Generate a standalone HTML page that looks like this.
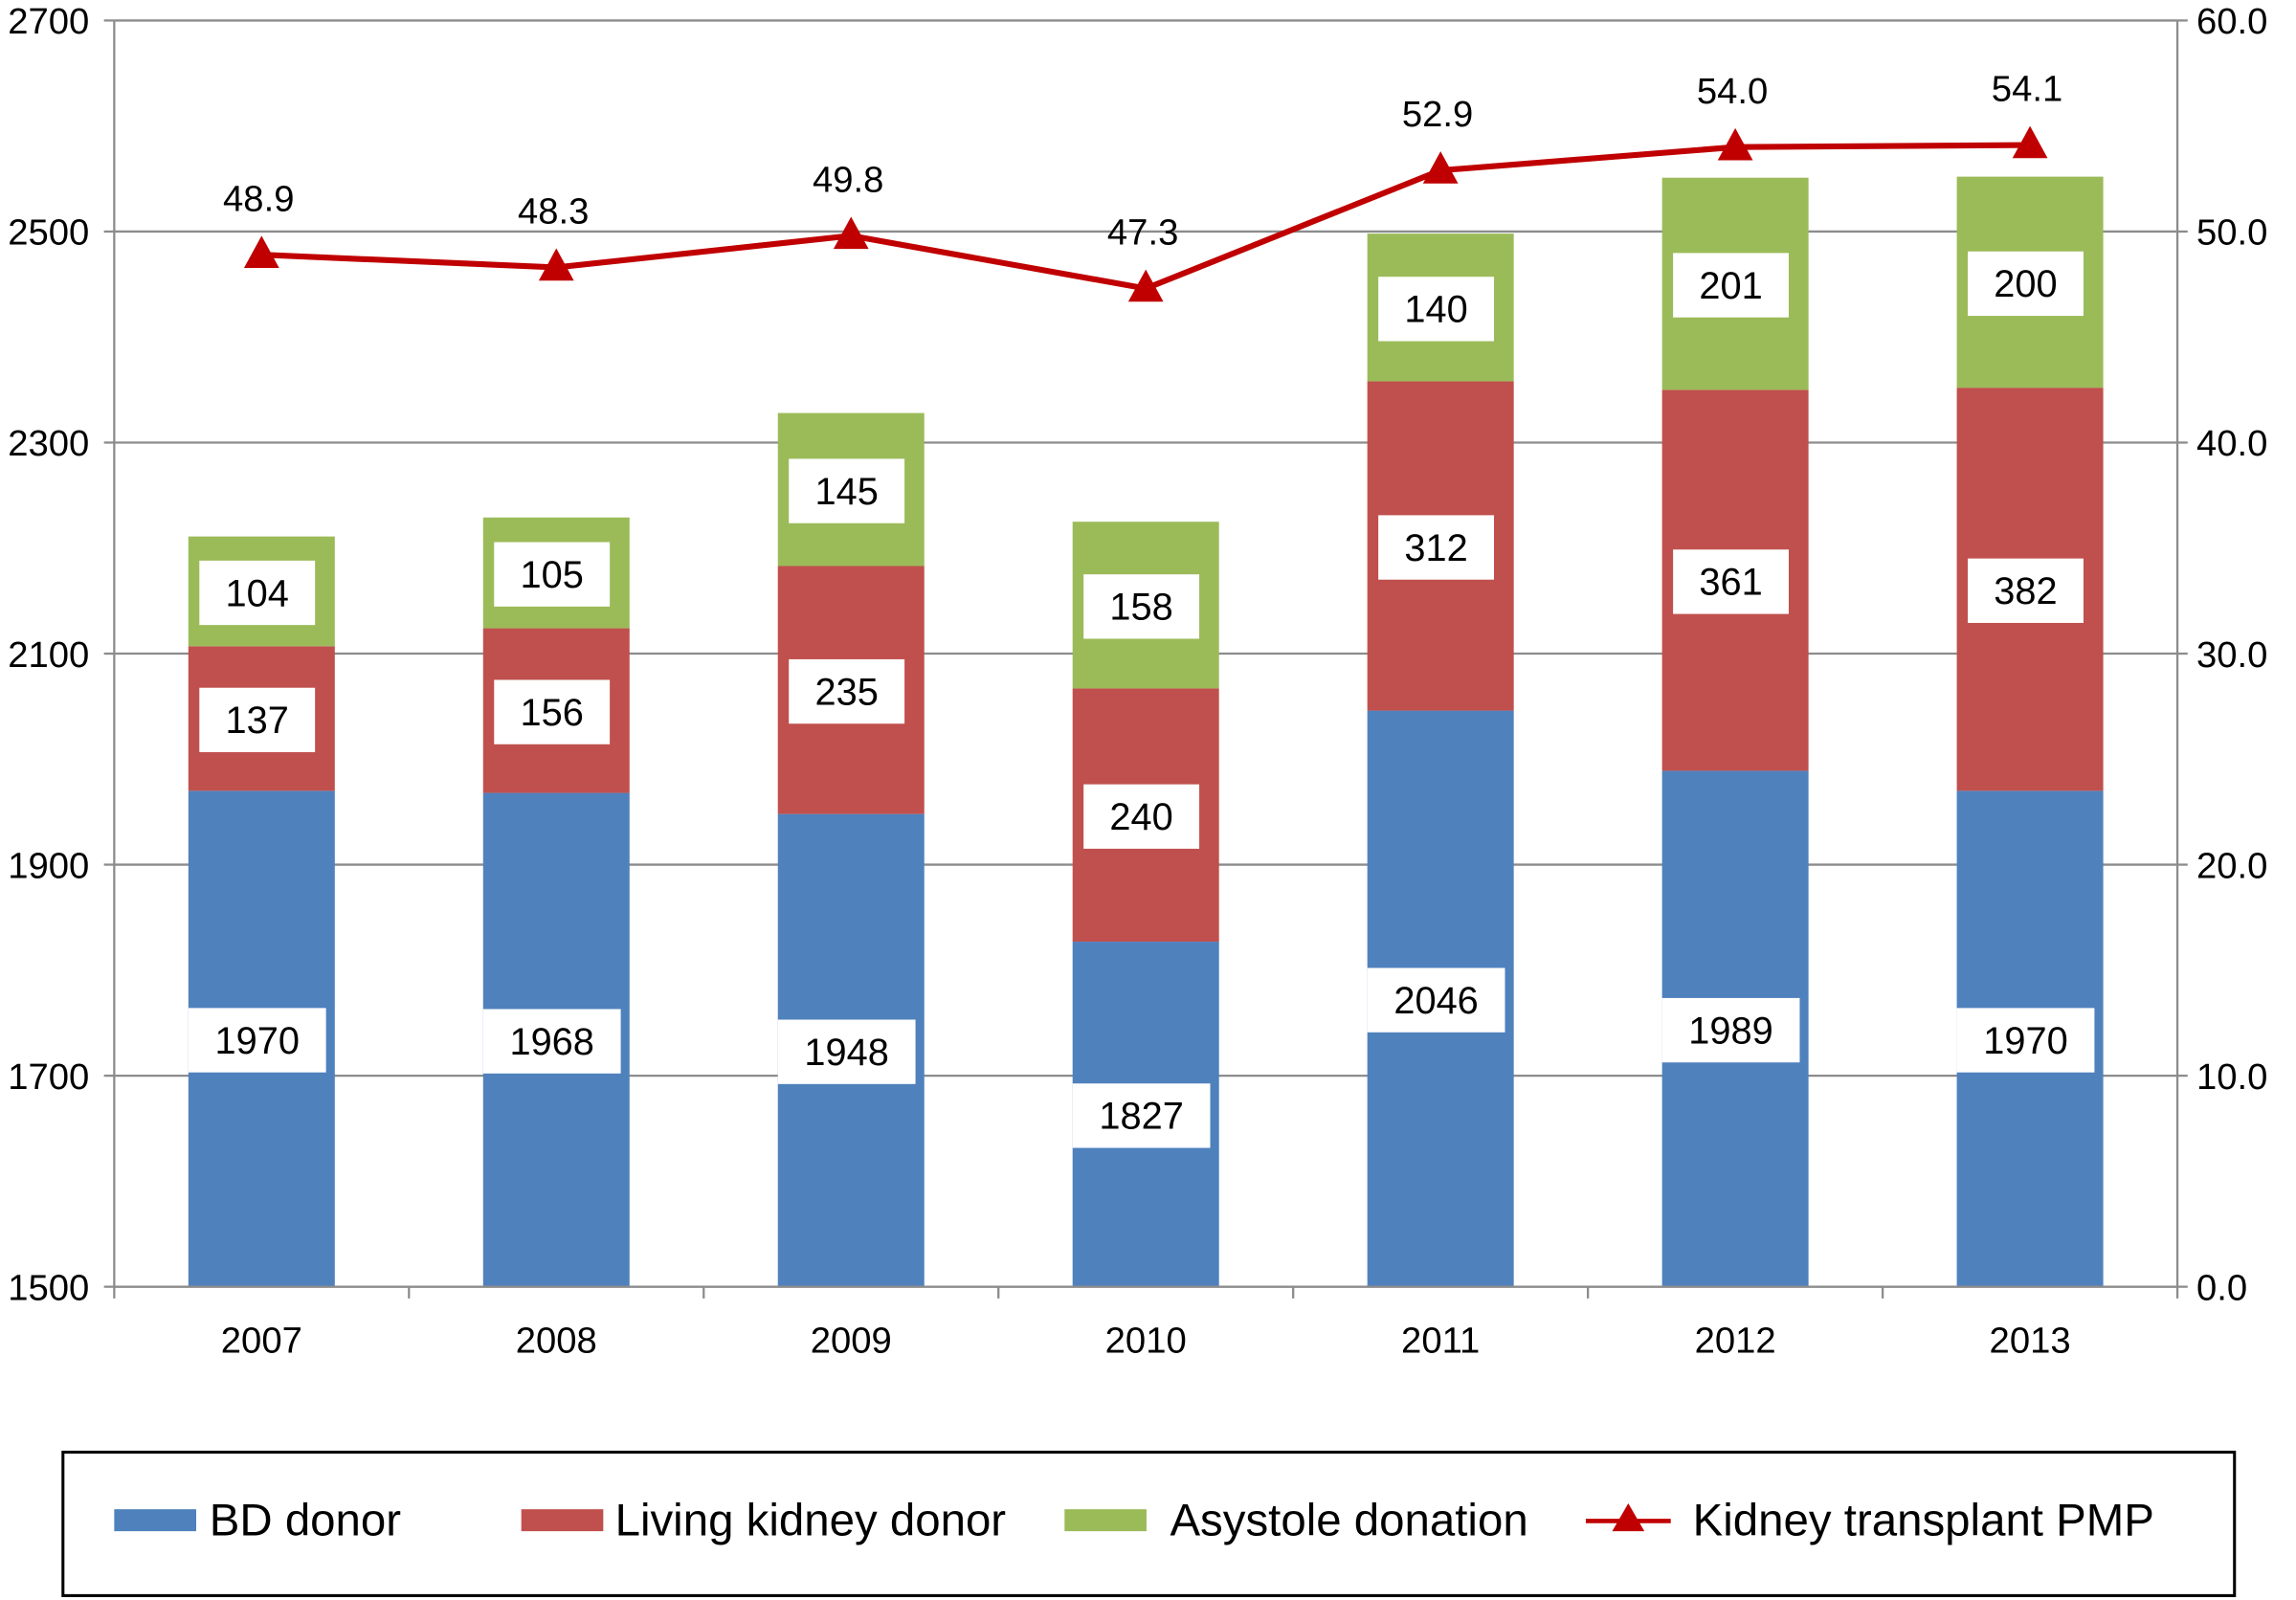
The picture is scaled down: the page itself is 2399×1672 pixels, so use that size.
<!DOCTYPE html>
<html><head><meta charset="utf-8"><style>
html,body{margin:0;padding:0;background:#fff}
svg{display:block;font-family:"Liberation Sans",Arial,sans-serif}
</style></head><body>
<svg id="chart" width="2399" height="1672" viewBox="0 0 1568 1093" preserveAspectRatio="none" xmlns="http://www.w3.org/2000/svg">
<g id="grid"></g><g id="bars"></g><g id="line"></g><g id="axes"></g>
<g>
<rect x="43" y="992" width="1483" height="98" fill="#fff" stroke="#000" stroke-width="2"/>
<rect x="78" y="1031" width="56" height="15" fill="#4F81BD"/>
<text x="143" y="1049" font-size="31">BD donor</text>
<rect x="356" y="1031" width="56" height="15" fill="#C0504D"/>
<text x="420" y="1049" font-size="31">Living kidney donor</text>
<rect x="727" y="1031" width="56" height="15" fill="#9BBB59"/>
<text x="799" y="1049" font-size="31">Asystole donation</text>
<line x1="1083" y1="1039" x2="1141" y2="1039" stroke="#C00000" stroke-width="3"/>
<polygon points="1112,1027 1123,1046 1101,1046" fill="#C00000"/>
<text x="1156" y="1049" font-size="31">Kidney transplant PMP</text>
</g>
</svg>
<script>
const categories=["2007","2008","2009","2010","2011","2012","2013"];
const bdDonor=[1970,1968,1948,1827,2046,1989,1970];
const livingDonor=[137,156,235,240,312,361,382];
const asystole=[104,105,145,158,140,201,200];
const pmp=[48.9,48.3,49.8,47.3,52.9,54.0,54.1];
const leftTicks=[1500,1700,1900,2100,2300,2500,2700];
const rightTicks=[0,10,20,30,40,50,60];
const NS="http://www.w3.org/2000/svg";
const L=78,R=1487,T=14,B=879;
const yL=v=>B-(v-1500)/1200*(B-T);
const yR=v=>B-v/60*(B-T);
const band=(R-L)/categories.length;
const xC=i=>L+band*(i+0.5);
function mk(tag,attrs,parent){const e=document.createElementNS(NS,tag);for(const k in attrs)e.setAttribute(k,attrs[k]);parent.appendChild(e);return e;}
const grid=document.getElementById('grid'),bars=document.getElementById('bars'),line=document.getElementById('line'),axes=document.getElementById('axes');
leftTicks.forEach((v,i)=>{
 const g=mk('line',{x1:L,x2:R,y1:yL(v),y2:yL(v),stroke:'#8c8c8c','stroke-width':1.5},grid);
 
 
 const t=mk('text',{x:61,y:yL(v)+9,'font-size':25,'text-anchor':'end'},axes);t.textContent=v;
 
 
 mk('line',{x1:L-7,x2:L,y1:yL(v),y2:yL(v),stroke:'#8c8c8c','stroke-width':1.5},axes);
});
rightTicks.forEach(v=>{
 const t=mk('text',{x:1500,y:yR(v)+9,'font-size':25},axes);t.textContent=v.toFixed(1);
 
 
 mk('line',{x1:R,x2:R+7,y1:yR(v),y2:yR(v),stroke:'#8c8c8c','stroke-width':1.5},axes);
});
mk('line',{x1:L,x2:L,y1:T,y2:B,stroke:'#8c8c8c','stroke-width':1.5},axes);
mk('line',{x1:R,x2:R,y1:T,y2:B,stroke:'#8c8c8c','stroke-width':1.5},axes);
mk('line',{x1:L,x2:R,y1:B,y2:B,stroke:'#8c8c8c','stroke-width':1.5},axes);
for(let i=0;i<=categories.length;i++)mk('line',{x1:L+band*i,x2:L+band*i,y1:B,y2:B+8,stroke:'#8c8c8c','stroke-width':1.5},axes);
function label(x,y,txt,parent){
 const w=txt.length*15+34;
 const r=mk('rect',{x:x-w/2,y:y-22,width:w,height:44,fill:'#fff'},parent);
 
 
 const t=mk('text',{x:x,y:y+9,'font-size':26,'text-anchor':'middle'},parent);t.textContent=txt;
 
 
}
const segs=[[bdDonor,'#4F81BD','bd'],[livingDonor,'#C0504D','living'],[asystole,'#9BBB59','asystole']];
categories.forEach((c,i)=>{
 let base=1500;const x=xC(i),w=100;
 segs.forEach(([arr,col,nm],k)=>{
  const lo=k===0?1500:base;const hi=k===0?arr[i]:base+arr[i];
  const r=mk('rect',{x:x-w/2,y:yL(hi),width:w,height:yL(lo)-yL(hi),fill:col},bars);
  
  
  base=hi;
 });
 base=1500;
 segs.forEach(([arr],k)=>{
  const lo=k===0?1500:base;const hi=k===0?arr[i]:base+arr[i];
  label(x-3,(yL(lo)+yL(hi))/2+1,String(arr[i]),bars);base=hi;
 });
 const t=mk('text',{x:x,y:924,'font-size':25,'text-anchor':'middle'},axes);t.textContent=c;
 
 
});
const p=mk('polyline',{points:pmp.map((v,i)=>xC(i)+','+yR(v)).join(' '),fill:'none',stroke:'#C00000','stroke-width':4},line);


pmp.forEach((v,i)=>{
 const x=xC(i),y=yR(v);
 const m=mk('polygon',{points:`${x},${y-13} ${x+12},${y+9} ${x-12},${y+9}`,fill:'#C00000'},line);
 
 
 const t=mk('text',{x:x-2,y:y-30,'font-size':25,'text-anchor':'middle'},line);t.textContent=v.toFixed(1);
 
 
});
</script>
</body></html>
